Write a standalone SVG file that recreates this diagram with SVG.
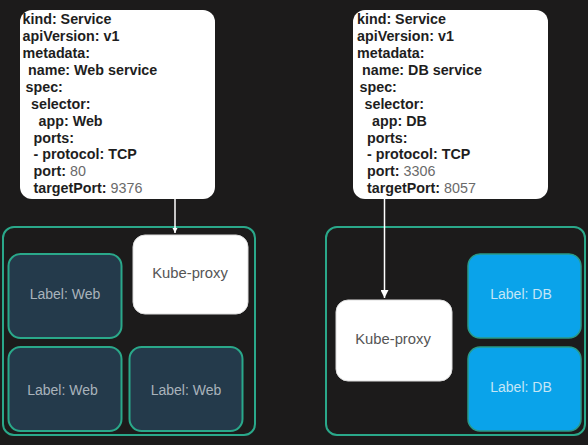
<svg xmlns="http://www.w3.org/2000/svg" width="588" height="445" viewBox="0 0 588 445">
<style>
.yaml{fill:#ffffff}
.yt{font-family:"Liberation Sans",Arial,sans-serif;font-size:14.3px;font-weight:bold;fill:#1e1e1e}
.num{font-weight:normal;fill:#6a6a6a}
.cont{fill:none;stroke:#2aa88a;stroke-width:2}
.web{fill:#243a4b;stroke:#2aa88a;stroke-width:2}
.db{fill:#0aa3ea;stroke:#2a9a86;stroke-width:1.5}
.proxy{fill:#ffffff;stroke:#dddddd;stroke-width:1}
.lbl{font-family:"Liberation Sans",Arial,sans-serif;font-size:14px;text-anchor:middle;dominant-baseline:central}
.lw{fill:#a9b3bb}
.ld{fill:#c4e6f6}
.lp{fill:#555555;font-size:14.8px}
.conn{stroke:#ffffff;stroke-width:1.5;fill:none}
</style>
<defs>
<marker id="ah" viewBox="0 0 10 10" refX="10" refY="5" markerWidth="5" markerHeight="6" markerUnits="userSpaceOnUse" orient="auto">
<path d="M0,0 L10,5 L0,10 z" fill="#ffffff"/>
</marker>
<marker id="ah2" viewBox="0 0 10 10" refX="10" refY="5" markerWidth="10" markerHeight="8" markerUnits="userSpaceOnUse" orient="auto">
<path d="M0,0 L10,5 L0,10 z" fill="#ffffff"/>
</marker>
</defs>
<rect width="588" height="445" fill="#1c1b1b"/>

<g id="web-cluster">
<rect class="cont" x="3" y="227" width="252" height="208" rx="11"/>
</g>
<g id="db-cluster">
<rect class="cont" x="326" y="227" width="259" height="208" rx="11"/>
</g>

<g id="web-service">
<rect class="yaml" x="20" y="10" width="195" height="189" rx="12"/>
<text class="yt">
<tspan x="22.5" y="24">kind: Service</tspan>
<tspan x="22.5" y="41">apiVersion: v1</tspan>
<tspan x="22.5" y="58">metadata:</tspan>
<tspan x="28" y="75">name: Web service</tspan>
<tspan x="25.5" y="92">spec:</tspan>
<tspan x="31" y="109">selector:</tspan>
<tspan x="38.5" y="125.5">app: Web</tspan>
<tspan x="33.5" y="142.5">ports:</tspan>
<tspan x="33.5" y="159">- protocol: TCP</tspan>
<tspan x="33.5" y="176">port: <tspan class="num">80</tspan></tspan>
<tspan x="33.5" y="192.5">targetPort: <tspan class="num">9376</tspan></tspan>
</text>
</g>

<g id="db-service">
<rect class="yaml" x="353" y="10" width="195" height="189" rx="12"/>
<text class="yt">
<tspan x="357" y="24">kind: Service</tspan>
<tspan x="357" y="41">apiVersion: v1</tspan>
<tspan x="357" y="58">metadata:</tspan>
<tspan x="362" y="75">name: DB service</tspan>
<tspan x="359.5" y="92">spec:</tspan>
<tspan x="364.5" y="109">selector:</tspan>
<tspan x="372" y="125.5">app: DB</tspan>
<tspan x="367" y="142.5">ports:</tspan>
<tspan x="367" y="159">- protocol: TCP</tspan>
<tspan x="367" y="176">port: <tspan class="num">3306</tspan></tspan>
<tspan x="367" y="192.5">targetPort: <tspan class="num">8057</tspan></tspan>
</text>
</g>

<g id="web-proxy">
<rect class="proxy" x="133" y="235" width="115" height="79" rx="12"/>
<text class="lbl lp" x="190" y="273">Kube-proxy</text>
</g>
<g id="web-pod-1">
<rect class="web" x="8.5" y="254" width="113" height="84" rx="12"/>
<text class="lbl lw" x="65" y="294">Label: Web</text>
</g>
<g id="web-pod-2">
<rect class="web" x="8.5" y="347" width="113" height="84" rx="12"/>
<text class="lbl lw" x="62.5" y="390">Label: Web</text>
</g>
<g id="web-pod-3">
<rect class="web" x="129.5" y="347" width="113" height="84" rx="12"/>
<text class="lbl lw" x="186" y="390">Label: Web</text>
</g>

<g id="db-proxy">
<rect class="proxy" x="336" y="300" width="116" height="81" rx="12"/>
<text class="lbl lp" x="393" y="339">Kube-proxy</text>
</g>
<g id="db-pod-1">
<rect class="db" x="468" y="254" width="113" height="84" rx="12"/>
<text class="lbl ld" x="521" y="294">Label: DB</text>
</g>
<g id="db-pod-2">
<rect class="db" x="468" y="347" width="113" height="84" rx="12"/>
<text class="lbl ld" x="521" y="387">Label: DB</text>
</g>

<g id="connectors">
<line class="conn" x1="175" y1="199" x2="175" y2="233" marker-end="url(#ah)"/>
<line class="conn" x1="384.5" y1="199" x2="384.5" y2="298" marker-end="url(#ah2)"/>
</g>
</svg>
